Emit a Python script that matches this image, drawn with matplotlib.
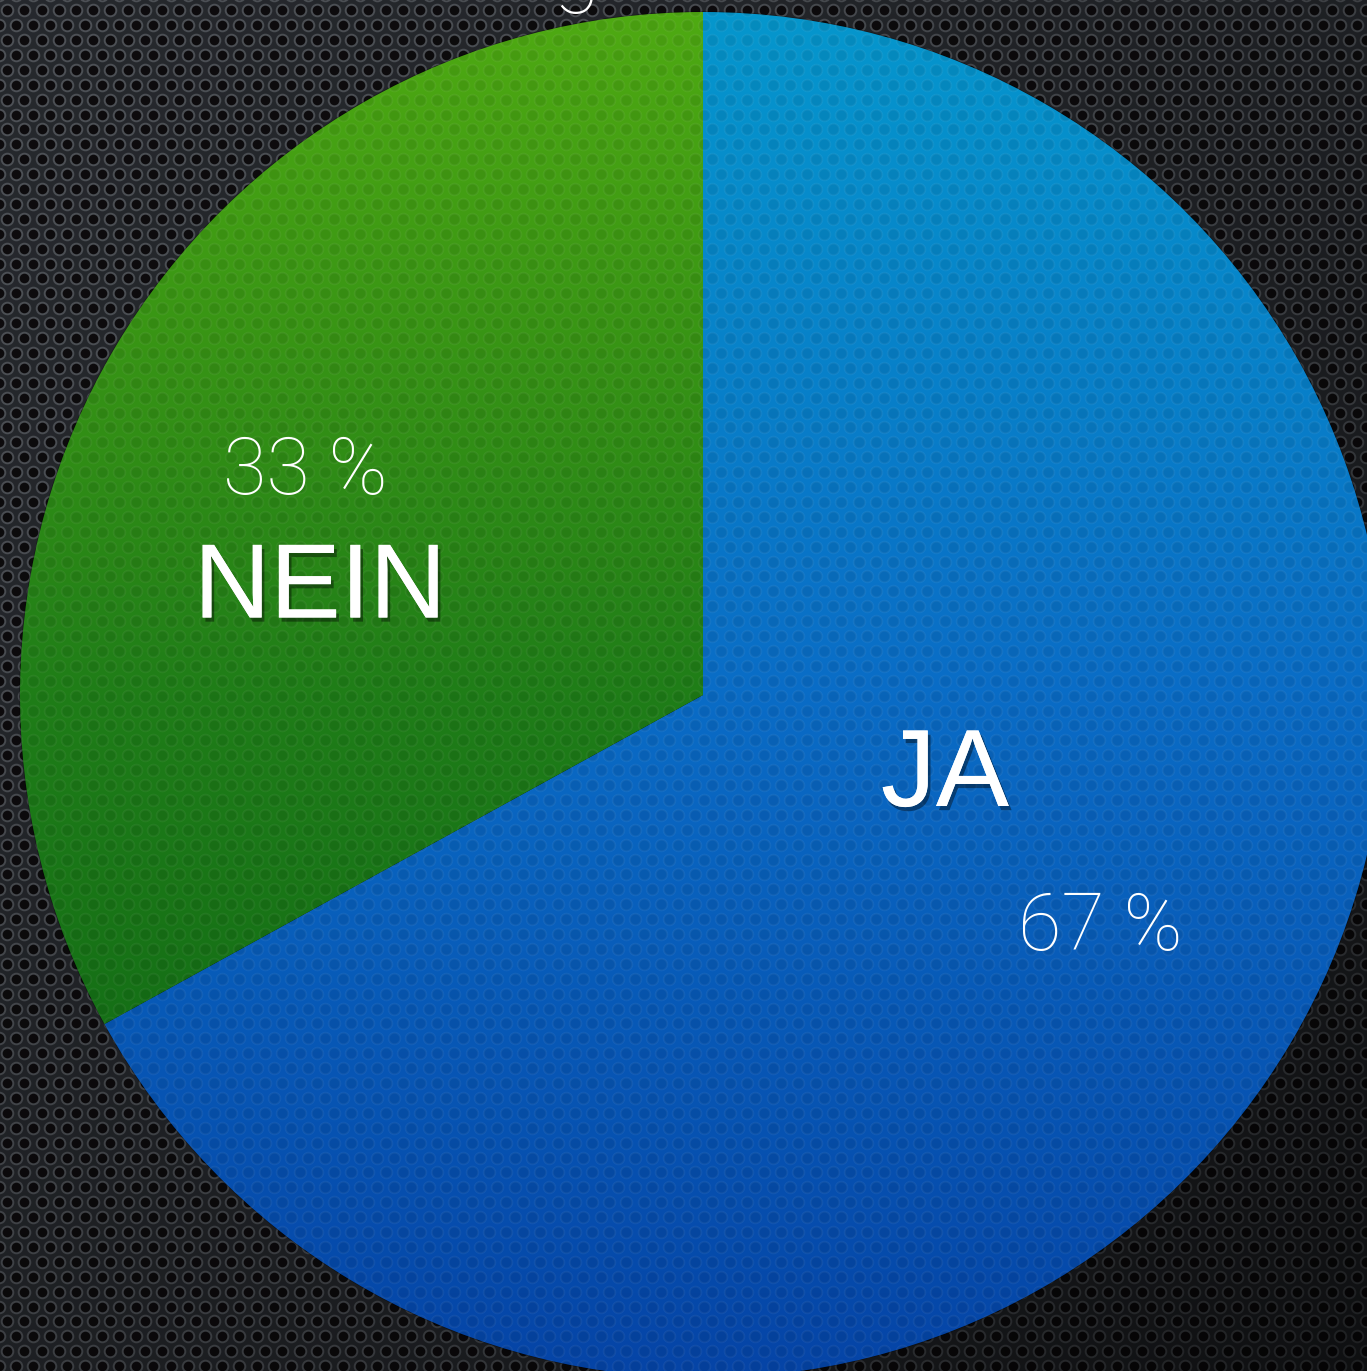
import numpy as np
import matplotlib
matplotlib.use("Agg")
import matplotlib.pyplot as plt
import matplotlib.patheffects as pe
from matplotlib.colors import LinearSegmentedColormap

# Daten
labels = ["JA", "NEIN"]
anteile = [67, 33]
prozent_texte = ["67 %", "33 %"]

W, H = 1367, 1371
fig = plt.figure(figsize=(W / 100, H / 100), dpi=100)

# Hintergrund: Lochblech
bg = fig.add_axes([0, 0, 1, 1])
bg.set_xlim(0, W)
bg.set_ylim(0, H)
bg.axis("off")
bg.add_patch(plt.Rectangle((0, 0), W, H, color="#2a2d32", zorder=0))
dx, dy = 17.2, 14.9
ys = np.arange(-10, H + 20, dy)
pts = []
for i, y in enumerate(ys):
    off = 0 if i % 2 == 0 else dx / 2
    xs = np.arange(-10 + off, W + 20, dx)
    pts.append(np.column_stack([xs, np.full_like(xs, y)]))
pts = np.vstack(pts)
bg.scatter(pts[:, 0], pts[:, 1], s=70, c="#0f0d0f", edgecolors="#565a60",
           linewidths=1.4, zorder=1)

# Abdunkelung nach rechts unten
xx, yy = np.meshgrid(np.linspace(0, 1, 200), np.linspace(0, 1, 200))
dunkel = np.clip((xx + yy) / 2, 0, 1) ** 1.5
rgba = np.zeros((200, 200, 4))
rgba[..., 3] = 0.1 + 0.55 * dunkel
bg.imshow(rgba, extent=(0, W, 0, H), origin="upper", aspect="auto", zorder=2)
bg.set_xlim(0, W)
bg.set_ylim(0, H)

# Kreisdiagramm
ax = fig.add_axes([0, 0, 1, 1])
ax.set_facecolor("none")
cx, cy, r = 703, H - 695, 683
wedges, _ = ax.pie(anteile, center=(cx, cy), radius=r, startangle=90,
                   counterclock=False,
                   wedgeprops=dict(edgecolor=(0, 0, 0, 0.35), linewidth=1.0))
ax.set_xlim(0, W)
ax.set_ylim(0, H)
ax.set_aspect("auto")
ax.axis("off")

cm_blau = LinearSegmentedColormap.from_list("blau", ["#0597cd", "#0a6cc6", "#0544a6"])
cm_gruen = LinearSegmentedColormap.from_list("gruen", ["#4faa12", "#1f7d18", "#0a6214"])
grad = np.linspace(0, 1, 256).reshape(-1, 1)
for w, cm in zip(wedges, [cm_blau, cm_gruen]):
    w.set_facecolor("none")
    im = ax.imshow(grad, cmap=cm, aspect="auto",
                   extent=(cx - r, cx + r, cy - r, cy + r), origin="upper", zorder=1)
    im.set_clip_path(w)
ax.set_xlim(0, W)
ax.set_ylim(0, H)

# leichte Struktur auf den Segmenten
for w in wedges:
    sc = ax.scatter(pts[:, 0], pts[:, 1], s=70, c=[(0, 0, 0, 0.07)],
                    edgecolors=[(1, 1, 1, 0.05)], linewidths=1.4, zorder=2)
    sc.set_clip_path(w)

schatten = [pe.withSimplePatchShadow(offset=(2, -3), shadow_rgbFace="black", alpha=0.4),
            pe.Normal()]

ax.text(945, H - 778, labels[0], fontsize=79, color="white", ha="center", va="center",
        family="Liberation Sans", path_effects=schatten, zorder=5)
ax.text(320, H - 590, labels[1], fontsize=76, color="white", ha="center", va="center",
        family="Liberation Sans", path_effects=schatten, zorder=5)
ax.text(1100, H - 928, prozent_texte[0], fontsize=57, color="white", ha="center",
        va="center", family="Roboto", fontweight="light", zorder=5)
ax.text(305, H - 472, prozent_texte[1], fontsize=57, color="white", ha="center",
        va="center", family="Roboto", fontweight="light", zorder=5)

# abgeschnittener Titel oben
ax.text(577, H + 4, "g", fontsize=62, color="white", ha="center", va="baseline",
        family="Roboto", fontweight="light", zorder=5)

fig.savefig("out.png", dpi=100)
